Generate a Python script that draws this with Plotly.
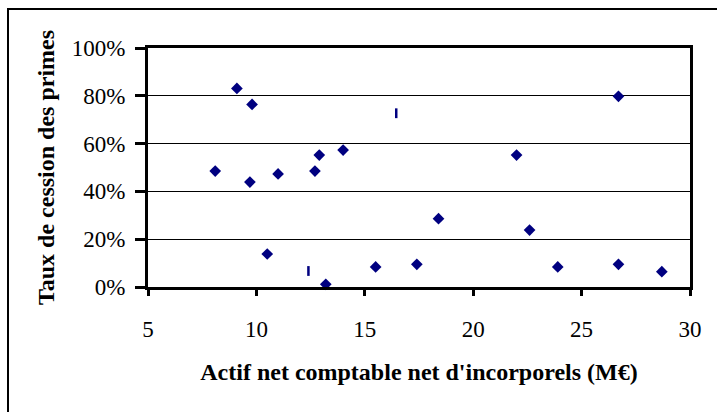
import plotly.graph_objects as go

# Data
actif_diamond = [8.1, 9.1, 9.8, 9.7, 11.0, 12.7, 12.9, 14.0, 10.5, 13.2,
                 15.5, 17.4, 18.4, 22.0, 22.6, 23.9, 26.7, 26.7, 28.7]
taux_diamond = [0.485, 0.831, 0.764, 0.439, 0.473, 0.485, 0.552, 0.573, 0.138, 0.011,
                0.084, 0.095, 0.286, 0.552, 0.238, 0.084, 0.798, 0.095, 0.064]
actif_dash = [16.45, 12.4]
taux_dash = [0.727, 0.067]

x_ticks = [5, 10, 15, 20, 25, 30]
y_ticks = [0, 0.2, 0.4, 0.6, 0.8, 1.0]

navy = "#000080"
font_family = "Liberation Serif"

fig = go.Figure()
fig.add_trace(go.Scatter(
    x=actif_diamond, y=taux_diamond, mode="markers",
    marker=dict(symbol="diamond", size=9, color=navy, line=dict(width=0)),
    showlegend=False, cliponaxis=False,
))
fig.add_trace(go.Scatter(
    x=actif_dash, y=taux_dash, mode="markers",
    marker=dict(symbol="line-ns", size=7, color=navy, line=dict(width=2.5, color=navy)),
    showlegend=False,
))

W, H = 717, 412
L, R, T, B = 148, 690, 48, 287
pw, ph = R - L, B - T

def px_x(p):
    return (p - L) / pw

def px_y(p):
    return (B - p) / ph

fig.add_shape(type="rect", xref="paper", yref="paper",
              x0=px_x(8), x1=px_x(730), y0=px_y(425), y1=px_y(9),
              line=dict(color="black", width=2), fillcolor="rgba(0,0,0,0)", layer="below")

fig.update_layout(
    width=W, height=H,
    margin=dict(l=L, r=W - R, t=T, b=H - B, pad=0),
    paper_bgcolor="white", plot_bgcolor="white",
    font=dict(family=font_family, size=23, color="black"),
    xaxis=dict(
        range=[5, 30], tickvals=x_ticks, ticktext=[str(v) for v in x_ticks],
        showgrid=False, zeroline=False,
        showline=True, linewidth=3, linecolor="black", mirror=True,
        ticks="outside", ticklen=6, tickwidth=3, tickcolor="black",
        ticklabelstandoff=13,
        title=dict(text="<b>Actif net comptable net d'incorporels (M€)</b>",
                   font=dict(size=24), standoff=23),
        automargin=False,
    ),
    yaxis=dict(
        range=[0, 1], tickvals=y_ticks, tickformat=".0%",
        showgrid=True, gridcolor="black", gridwidth=1, zeroline=False,
        showline=True, linewidth=3, linecolor="black", mirror=True,
        ticks="outside", ticklen=10, tickwidth=3, tickcolor="black",
        ticklabelstandoff=5,
        title=dict(text="<b>Taux de cession des primes</b>",
                   font=dict(size=24), standoff=11),
        automargin=False,
    ),
)

fig.write_html("out.html", config={"displayModeBar": False},
               post_script="document.body.style.margin='0';document.body.style.overflow='hidden';")
